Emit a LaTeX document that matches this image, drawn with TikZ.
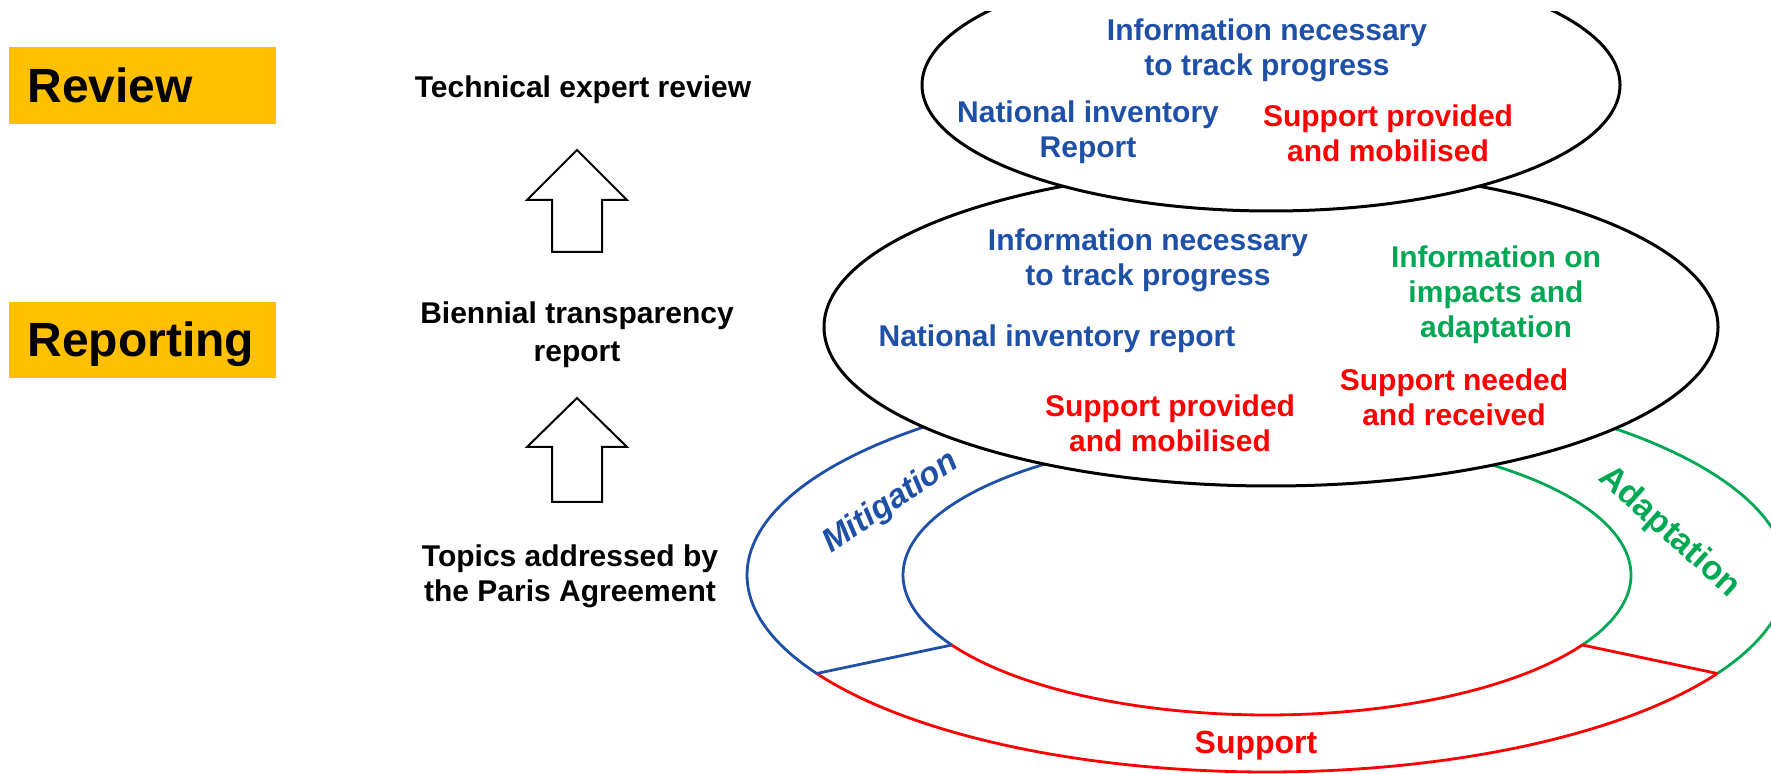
\documentclass[tikz,border=0pt]{standalone}
\usepackage{fontspec}
\setmainfont{Liberation Sans}
\definecolor{gold}{RGB}{255,192,0}
\definecolor{myblue}{RGB}{31,80,168}
\definecolor{mygreen}{RGB}{0,168,84}
\definecolor{myred}{RGB}{255,0,0}
\tikzset{
  lbl/.style={font=\bfseries\fontsize{15}{17.5}\selectfont, align=center, inner sep=0pt},
  tagtext/.style={font=\bfseries\fontsize{24}{28}\selectfont, inner sep=0pt, anchor=base west},
  tagbox/.style={fill=gold, draw=none},
  blockarrow/.style={draw=black, line width=1pt, fill=white, line join=miter},
  ringline/.style={line width=1.4pt},
  ellline/.style={draw=black, line width=1.5pt, fill=white},
  ringlbl/.style={font=\bfseries\fontsize{17}{20}\selectfont, inner sep=0pt}
}
\begin{document}
\begin{tikzpicture}[x=0.5pt,y=-0.5pt]
\useasboundingbox (0,0) rectangle (1771,774);
\clip (0,12) rectangle (1771,774);

% tag boxes
\fill[tagbox] (9,47) rectangle (276,124);
\fill[tagbox] (9,302) rectangle (276,378);
\node[tagtext] (review) at (27,103) {Review};
\node[tagtext] (reporting) at (27,357) {Reporting};

% left column texts
\node[lbl] (tech) at (583,90) {Technical expert review};
\node[lbl, font=\bfseries\fontsize{15}{19}\selectfont] (btr) at (577,335) {Biennial transparency\\report};
\node[lbl] (topics) at (570,576) {Topics addressed by\\the Paris Agreement};

% block arrows
\coordinate (a1tip) at (577,150);
\coordinate (a2tip) at (577,398);
\draw[blockarrow] (a1tip) -- (627,200) -- (602,200) -- (602,252) -- (552,252) -- (552,200) -- (527,200) -- cycle;
\draw[blockarrow] (a2tip) -- (627,447) -- (602,447) -- (602,502) -- (552,502) -- (552,447) -- (527,447) -- cycle;

% ring (centre 1267,575)
\coordinate (rc) at (1267,575);
\draw[ringline, myblue] plot[domain=150:272, samples=90] ({1267+520*cos(\x)},{575+197*sin(\x)});
\draw[ringline, myblue] plot[domain=150:272, samples=90] ({1267+364*cos(\x)},{575+140*sin(\x)});
\draw[ringline, mygreen] plot[domain=-92:30, samples=90] ({1267+520*cos(\x)},{575+197*sin(\x)});
\draw[ringline, mygreen] plot[domain=-92:30, samples=90] ({1267+364*cos(\x)},{575+140*sin(\x)});
\draw[ringline, myred] plot[domain=30:150, samples=100] ({1267+520*cos(\x)},{575+197*sin(\x)});
\draw[ringline, myred] plot[domain=30:150, samples=100] ({1267+364*cos(\x)},{575+140*sin(\x)});
\coordinate (lo) at ({1267+520*cos(150)},{575+197*sin(150)});
\coordinate (li) at ({1267+364*cos(150)},{575+140*sin(150)});
\coordinate (ro) at ({1267+520*cos(30)},{575+197*sin(30)});
\coordinate (ri) at ({1267+364*cos(30)},{575+140*sin(30)});
\draw[ringline, myblue] (lo) -- (li);
\draw[ringline, myred] (ro) -- (ri);

% middle ellipse
\draw[ellline] (1271,327) ellipse [x radius=223.5pt, y radius=79.5pt];
% top ellipse
\draw[ellline] (1271,85) ellipse [x radius=174.5pt, y radius=63pt];

% top ellipse texts
\node[lbl, text=myblue] (tinfo) at (1267,50) {Information necessary\\to track progress};
\node[lbl, text=myblue] (tnir) at (1088,132) {National inventory\\Report};
\node[lbl, text=myred] (tsup) at (1388,133) {Support provided\\and mobilised};

% middle ellipse texts
\node[lbl, text=myblue] (minfo) at (1148,260) {Information necessary\\to track progress};
\node[lbl, text=mygreen] (madapt) at (1496,295) {Information on\\impacts and\\adaptation};
\node[lbl, text=myblue] (mnir) at (1057,339) {National inventory report};
\node[lbl, text=myred] (mneed) at (1454,397) {Support needed\\and received};
\node[lbl, text=myred] (msup) at (1170,423) {Support provided\\and mobilised};

% ring labels
\node[ringlbl, text=myblue, font=\bfseries\itshape\fontsize{16.5}{20}\selectfont, rotate=34] (mitig) at (891,503) {Mitigation};
\node[ringlbl, text=mygreen, rotate=-42] (adapt) at (1669,532) {Adaptation};
\node[ringlbl, text=myred, font=\bfseries\fontsize{16}{20}\selectfont] (support) at (1256,746) {Support};
\end{tikzpicture}
\end{document}
